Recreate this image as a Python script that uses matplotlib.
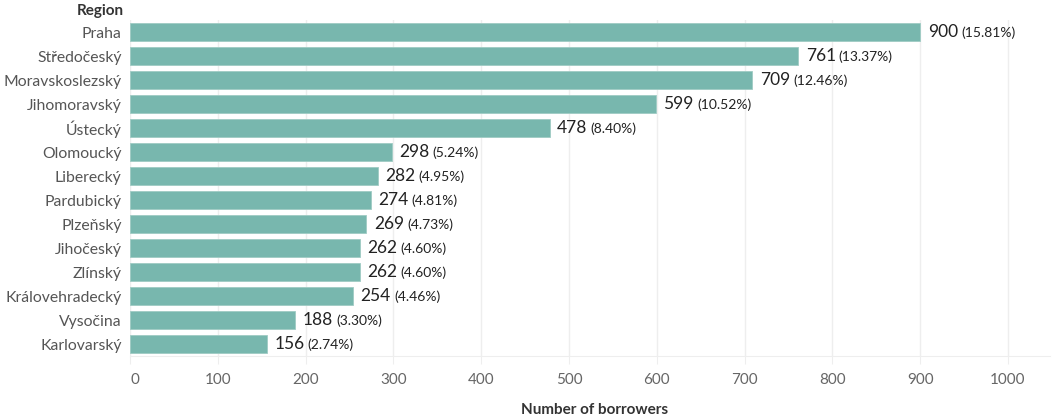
import matplotlib
matplotlib.use("Agg")
import matplotlib.pyplot as plt
import matplotlib.transforms as mtransforms

regions = ["Praha", "Středočeský", "Moravskoslezský", "Jihomoravský", "Ústecký",
           "Olomoucký", "Liberecký", "Pardubický", "Plzeňský", "Jihočeský",
           "Zlínský", "Královehradecký", "Vysočina", "Karlovarský"]
borrowers = [900, 761, 709, 599, 478, 298, 282, 274, 269, 262, 262, 254, 188, 156]
shares = ["15.81%", "13.37%", "12.46%", "10.52%", "8.40%", "5.24%", "4.95%",
          "4.81%", "4.73%", "4.60%", "4.60%", "4.46%", "3.30%", "2.74%"]
x_ticks = [0, 100, 200, 300, 400, 500, 600, 700, 800, 900, 1000]

plt.rcParams["font.family"] = ["Lato", "DejaVu Sans"]

fig = plt.figure(figsize=(10.52, 4.16), dpi=100)
ax = fig.add_axes([130 / 1052, 1 - 356 / 416, (1050 - 130) / 1052, (356 - 20) / 416])

y = list(range(len(regions)))
ax.barh(y, borrowers, height=0.78, color="#78b7ae", edgecolor="#9fcbc4", linewidth=0.6, zorder=2)
ax.set_ylim(len(regions) - 0.5, -0.5)
ax.set_xlim(0, 1048)

for yi, v, s in zip(y, borrowers, shares):
    t = ax.annotate(str(v), (v, yi), xytext=(5.5, 0), textcoords="offset points",
                    va="center", ha="left", fontsize=12.5, color="#222222")
    ax.annotate(f"({s})", xy=(1, 0.5), xycoords=t, xytext=(2.2, -0.5),
                textcoords="offset points", va="center", ha="left",
                fontsize=10, color="#222222")

ax.set_yticks(y)
ax.set_yticklabels(regions, fontsize=11.3, color="#555555")
ax.set_xticks(x_ticks)
ax.set_xticklabels([str(t) for t in x_ticks], fontsize=11, color="#666666")
ax.tick_params(axis="y", length=0, pad=6)
ax.tick_params(axis="x", length=6, color="#eeeeee", pad=6)

# keep the zero label just inside the plotting area
zero_lbl = ax.get_xticklabels()[0]
zero_lbl.set_transform(zero_lbl.get_transform() +
                       mtransforms.ScaledTranslation(5 / 100, 0, fig.dpi_scale_trans))

ax.grid(axis="x", color="#eeeeee", linewidth=1, zorder=0)
for side in ["top", "right", "left"]:
    ax.spines[side].set_visible(False)
ax.spines["bottom"].set_color("#eeeeee")

ax.set_xlabel("Number of borrowers", fontsize=11, fontweight="bold", color="#333333", labelpad=11)
ax.xaxis.set_label_coords(0.505, -0.14)
fig.text(124 / 1052, 1 - 11 / 416, "Region", ha="right", va="center",
         fontsize=11, fontweight="bold", color="#333333")

fig.savefig("out.png", dpi=100)
